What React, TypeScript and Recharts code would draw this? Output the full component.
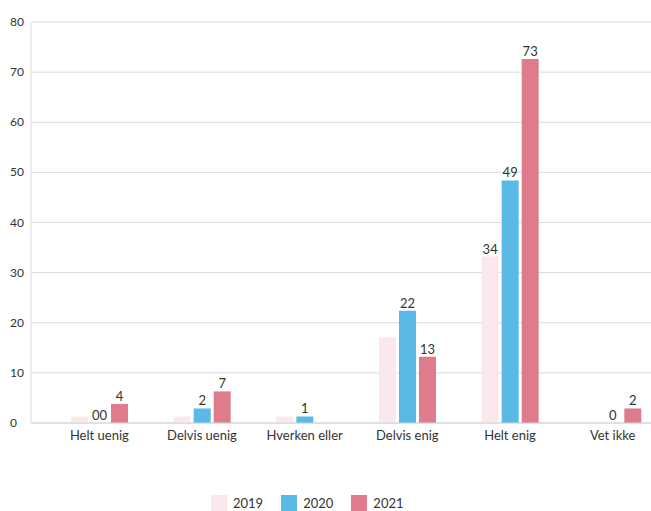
import React from "react";
import { BarChart, Bar, XAxis, YAxis, CartesianGrid, Legend, LabelList } from "recharts";

const categories = ["Helt uenig", "Delvis uenig", "Hverken eller", "Delvis enig", "Helt enig", "Vet ikke"];
const values2019: (number | null)[] = [1.3, 1.3, 1.3, 17.1, 33.2, null];
const values2020: (number | null)[] = [0, 2.9, 1.3, 22.4, 48.4, 0];
const values2021: (number | null)[] = [3.8, 6.3, null, 13.2, 72.6, 2.9];
const labels2019 = ["", "", "", "", "34", ""];
const labels2020 = ["00", "2", "1", "22", "49", "0"];
const labels2021 = ["4", "7", "", "13", "73", "2"];
const yTicks = [0, 10, 20, 30, 40, 50, 60, 70, 80];
const seriesNames = ["2019", "2020", "2021"];
const colors = ["#FBE8ED", "#5BB9E7", "#DE7C8B"];

const data = categories.map((c, i) => ({
  name: c,
  v2019: values2019[i],
  v2020: values2020[i],
  v2021: values2021[i],
  l2019: labels2019[i],
  l2020: labels2020[i],
  l2021: labels2021[i],
}));

const FONT = "Lato, 'Open Sans', sans-serif";

const YTick = (props: any) => {
  const { y, payload } = props;
  return (
    <text x={10} y={y} dy={4} textAnchor="start" fontSize={12} fill="#333" fontFamily={FONT}>
      {payload.value}
    </text>
  );
};

const LegendContent = () => (
  <div style={{ display: "flex", alignItems: "center", fontFamily: FONT, fontSize: 13, color: "#333", height: 16 }}>
    {seriesNames.map((n, i) => (
      <div key={n} style={{ display: "flex", alignItems: "center", marginRight: 18 }}>
        <div style={{ width: 16, height: 16, background: colors[i], marginRight: 6 }} />
        <span>{n}</span>
      </div>
    ))}
  </div>
);

const labelStyle = { fontSize: 13, fill: "#333", fontFamily: FONT };

export default function App() {
  return (
    <div style={{ position: "absolute", left: 0, top: 0, width: 651, height: 511, overflow: "hidden", background: "#fff" }}>
      <BarChart
        width={664}
        height={511}
        data={data}
        margin={{ top: 22, right: 0, bottom: 0, left: 0 }}
        barSize={17}
        barGap={3}
      >
        <CartesianGrid vertical={false} stroke="#dcdcdc" />
        <XAxis
          dataKey="name"
          height={72}
          padding={{ left: 17, right: 0 }}
          tickLine={false}
          axisLine={{ stroke: "#d4d4d4" }}
          tick={{ fontSize: 13, fill: "#333", fontFamily: FONT }}
          interval={0}
        />
        <YAxis
          width={31}
          domain={[0, 80]}
          ticks={yTicks}
          tickLine={false}
          axisLine={{ stroke: "#dcdcdc" }}
          tick={<YTick />}
        />
        <Legend
          verticalAlign="bottom"
          content={<LegendContent />}
          wrapperStyle={{ left: 211, width: 260, height: 16, bottom: 0 }}
        />
        <Bar dataKey="v2019" name="2019" fill={colors[0]} isAnimationActive={false}>
          <LabelList dataKey="l2019" position="top" offset={3} style={labelStyle} />
        </Bar>
        <Bar dataKey="v2020" name="2020" fill={colors[1]} minPointSize={0.01} isAnimationActive={false}>
          <LabelList dataKey="l2020" position="top" offset={3} style={labelStyle} />
        </Bar>
        <Bar dataKey="v2021" name="2021" fill={colors[2]} isAnimationActive={false}>
          <LabelList dataKey="l2021" position="top" offset={3} style={labelStyle} />
        </Bar>
      </BarChart>
    </div>
  );
}
